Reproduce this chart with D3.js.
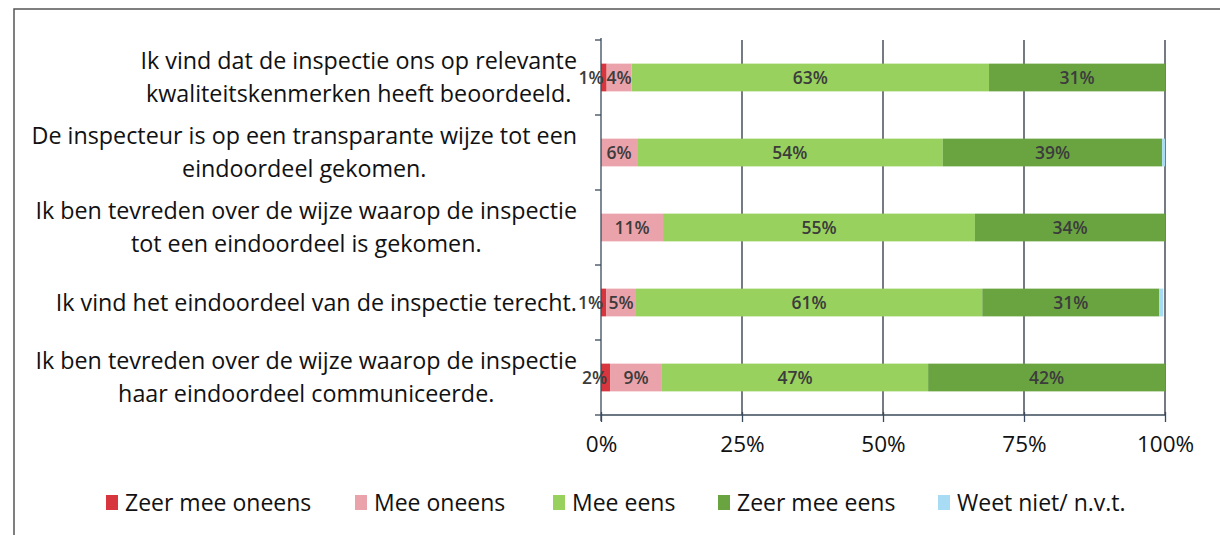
<!DOCTYPE html>
<html>
<head>
<meta charset="utf-8">
<script src="https://cdn.jsdelivr.net/npm/d3@7/dist/d3.min.js"></script>
<style>
  body { margin: 0; background: #fff; }
  svg { display: block; font-family: "Open Sans", "Noto Sans", sans-serif; }
</style>
</head>
<body>
<svg width="1220" height="535"></svg>
<script>
// statements, each wrapped over lines as in the chart
var statements = [
    ['Ik vind dat de inspectie ons op relevante', 'kwaliteitskenmerken heeft beoordeeld.'],
    ['De inspecteur is op een transparante wijze tot een', 'eindoordeel gekomen.'],
    ['Ik ben tevreden over de wijze waarop de inspectie', 'tot een eindoordeel is gekomen.'],
    ['Ik vind het eindoordeel van de inspectie terecht.'],
    ['Ik ben tevreden over de wijze waarop de inspectie', 'haar eindoordeel communiceerde.']
];

var seriesNames = ['Zeer mee oneens', 'Mee oneens', 'Mee eens', 'Zeer mee eens', 'Weet niet/ n.v.t.'];
var seriesColors = ['#d8363f', '#eba3ab', '#98d15e', '#6aa441', '#a8dcf4'];

// percentages per statement, one array per answer
var zeerOneens = [1.0, 0, 0, 0.9, 1.6];
var meeOneens  = [4.4, 6.4, 11.0, 5.3, 9.2];
var meeEens    = [63.4, 54.2, 55.3, 61.4, 47.2];
var zeerEens   = [31.2, 38.9, 33.7, 31.4, 42.0];
var weetNiet   = [0, 0.5, 0, 0.7, 0];

var xTicks = [0, 25, 50, 75, 100];

var svg = d3.select('svg');
var plot = {l: 601, r: 1165, t: 40, b: 415};

var series = [zeerOneens, meeOneens, meeEens, zeerEens, weetNiet];

var xScale = d3.scaleLinear().domain([0, 100]).range([plot.l, plot.r]);
var yScale = d3.scaleBand().domain(d3.range(statements.length))
    .range([plot.t, plot.b]).paddingInner(0.63).paddingOuter(0.315);
var bandStep = (plot.b - plot.t) / statements.length;

// outer frame (only top and left edges show in the scan)
svg.append('path')
    .attr('d', 'M14,535 L14,9 L1220,9')
    .attr('fill', 'none').attr('stroke', '#555').attr('stroke-width', 1.5);

// gridlines
svg.append('g').selectAll('line')
    .data(xTicks.slice(1))
    .enter().append('line')
    .attr('x1', function(d) { return xScale(d); })
    .attr('x2', function(d) { return xScale(d); })
    .attr('y1', plot.t).attr('y2', plot.b)
    .attr('stroke', '#2b3340').attr('stroke-width', 1.3);

// stacked rows
var rows = statements.map(function(s, i) {
    var start = 0;
    return series.map(function(arr, k) {
        var seg = {row: i, key: k, v: arr[i], x0: start, x1: start + arr[i]};
        start += arr[i];
        return seg;
    });
});
var segs = d3.merge(rows).filter(function(d) { return d.v > 0; });

var barG = svg.append('g');
barG.selectAll('rect')
    .data(segs)
    .enter().append('rect')
    .attr('x', function(d) { return xScale(d.x0); })
    .attr('width', function(d) { return xScale(d.x1) - xScale(d.x0); })
    .attr('y', function(d) { return yScale(d.row); })
    .attr('height', yScale.bandwidth())
    .attr('fill', function(d) { return seriesColors[d.key]; });

// value labels (weet niet is too thin to get one)
barG.selectAll('text')
    .data(segs.filter(function(d) { return d.key < 4; }))
    .enter().append('text')
    .attr('x', function(d) {
        if (d.v < 3) return xScale(d.x1) - 3;
        return (xScale(d.x0) + xScale(d.x1)) / 2;
    })
    .attr('text-anchor', function(d) { return d.v < 3 ? 'end' : 'middle'; })
    .attr('y', function(d) { return yScale(d.row) + yScale.bandwidth() / 2; })
    .attr('dy', '0.36em')
    .attr('font-size', 17.5).attr('font-weight', 600)
    .attr('fill', '#3c3c3c')
    .text(function(d) { return Math.round(d.v) + '%'; });

// y axis with ticks between categories
var yAxisG = svg.append('g');
yAxisG.append('line')
    .attr('x1', plot.l).attr('x2', plot.l)
    .attr('y1', plot.t - 2).attr('y2', plot.b + 6)
    .attr('stroke', '#3a4a5a').attr('stroke-width', 1.3);
yAxisG.selectAll('.yt')
    .data(d3.range(statements.length + 1))
    .enter().append('line')
    .attr('x1', plot.l - 6).attr('x2', plot.l)
    .attr('y1', function(i) { return plot.t + i * bandStep; })
    .attr('y2', function(i) { return plot.t + i * bandStep; })
    .attr('stroke', '#3a4a5a').attr('stroke-width', 1.3);

// category labels: right aligned block, centered lines
var labelRight = 577;
var catG = svg.append('g').attr('font-size', 23.3).attr('fill', '#111');
statements.forEach(function(lines, i) {
    var cy = yScale(i) + yScale.bandwidth() / 2;
    var g = catG.append('g');
    var texts = lines.map(function(line, j) {
        return g.append('text')
            .attr('y', cy + (j - (lines.length - 1) / 2) * 33)
            .attr('dy', '0.35em')
            .attr('text-anchor', 'middle')
            .text(line);
    });
    var w = d3.max(texts, function(t) { return t.node().getComputedTextLength(); });
    texts.forEach(function(t) { t.attr('x', labelRight - w / 2); });
});

// x axis
var xAxis = d3.axisBottom(xScale)
    .tickValues(xTicks)
    .tickSize(7)
    .tickPadding(14)
    .tickFormat(function(d) { return d + '%'; });
var xAxisG = svg.append('g')
    .attr('transform', 'translate(0,' + plot.b + ')')
    .call(xAxis);
xAxisG.select('.domain').attr('stroke', '#3a4a5a').attr('stroke-width', 1.3)
    .attr('d', 'M' + plot.l + ',0H' + plot.r);
xAxisG.selectAll('.tick line').attr('stroke', '#3a4a5a').attr('stroke-width', 1.3)
    .attr('y1', -3);
xAxisG.selectAll('.tick text')
    .attr('font-family', '"Open Sans", sans-serif')
    .attr('font-size', 22.5).attr('fill', '#111');

// legend
var legendX = [106, 355, 553, 718, 938];
var legend = svg.append('g').attr('transform', 'translate(0,503)');
var items = legend.selectAll('g')
    .data(seriesNames)
    .enter().append('g')
    .attr('transform', function(d, i) { return 'translate(' + legendX[i] + ',0)'; });
items.append('rect')
    .attr('x', 0).attr('y', -8).attr('width', 12).attr('height', 15)
    .attr('fill', function(d, i) { return seriesColors[i]; });
items.append('text')
    .attr('x', 19).attr('dy', '0.35em')
    .attr('font-size', 23).attr('fill', '#111')
    .text(function(d) { return d; });
</script>
</body>
</html>
